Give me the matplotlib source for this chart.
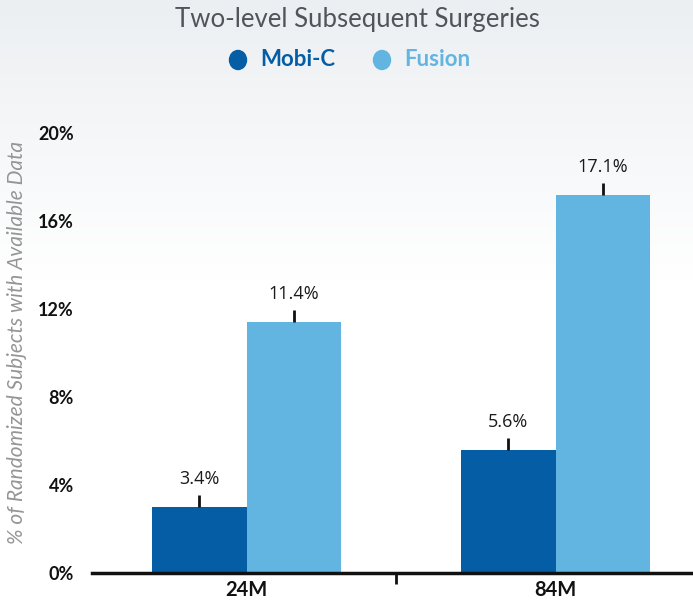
import numpy as np
import matplotlib
matplotlib.use("Agg")
import matplotlib.pyplot as plt

categories = ["24M", "84M"]
series_names = ["Mobi-C", "Fusion"]
mobic_vals = [3.0, 5.6]
fusion_vals = [11.4, 17.2]
mobic_labels = ["3.4%", "5.6%"]
fusion_labels = ["11.4%", "17.1%"]
y_ticks = [0, 4, 8, 12, 16, 20]

c_mobi = "#045da5"
c_fus = "#62b5e1"

W, H = 693, 604
fig = plt.figure(figsize=(W / 100, H / 100), dpi=100)

# background gradient
bg = fig.add_axes([0, 0, 1, 1], zorder=-10)
grad = np.ones((H, 1, 3))
top = np.array([0xec, 0xef, 0xf2]) / 255
for i in range(H):
    t = min(i / 280.0, 1.0)
    grad[i, 0, :] = top * (1 - t) + np.ones(3) * t
bg.imshow(grad, aspect="auto", extent=[0, 1, 0, 1])
bg.axis("off")

left_px, right_px = 92, 693
bot_px, top_px = 573, 133
ax = fig.add_axes([left_px / W, (H - bot_px) / H, (right_px - left_px) / W, (bot_px - top_px) / H])
ax.set_facecolor("none")

x = np.arange(len(categories))
bw = 0.307
ax.bar(x - bw / 2, mobic_vals, bw, color=c_mobi, zorder=2)
ax.bar(x + bw / 2, fusion_vals, bw, color=c_fus, zorder=2)

stub = 0.55
for xi, v, lab in zip(x - bw / 2, mobic_vals, mobic_labels):
    ax.vlines(xi, v, v + stub, color="#111111", lw=2, zorder=3)
    ax.text(xi, v + stub + 0.3, lab, ha="center", va="bottom", fontsize=13,
            family="Open Sans", color="#1a1a1a")
for xi, v, lab in zip(x + bw / 2, fusion_vals, fusion_labels):
    ax.vlines(xi, v, v + stub, color="#111111", lw=2, zorder=3)
    ax.text(xi, v + stub + 0.3, lab, ha="center", va="bottom", fontsize=13,
            family="Open Sans", color="#1a1a1a")

ax.set_xlim(-0.5, -0.5 + (right_px - left_px) / 309.0)
ax.set_ylim(0, 20)
ax.set_yticks(y_ticks)
ax.set_yticklabels([f"{t}%" for t in y_ticks], fontsize=13, fontweight="bold",
                   family="Lato", color="#111111")
ax.tick_params(axis="y", length=0, pad=13)
ax.set_xticks(x)
ax.set_xticklabels(categories, fontsize=14.5, fontweight="bold", family="Lato", color="#111111")
ax.tick_params(axis="x", length=0, pad=5)
ax.set_xticks([0.5 - (401.5 - 396) / 309], minor=True)
ax.tick_params(axis="x", which="minor", length=8, width=2, direction="out", color="#111111")

for s in ["top", "right", "left"]:
    ax.spines[s].set_visible(False)
ax.spines["bottom"].set_linewidth(2.5)
ax.spines["bottom"].set_color("#111111")

fig.text(17 / W, 1 - 342 / H, "% of Randomized Subjects with Available Data", rotation=90,
         ha="center", va="center", fontsize=15, style="italic", family="Lato",
         fontweight="normal", color="#959595")

fig.text(357 / W, 1 - 19 / H, "Two-level Subsequent Surgeries", ha="center", va="center",
         fontsize=18.5, family="Lato", fontweight="normal", color="#50555b")

# legend
ly = 1 - 60 / H
fig.patches.append(matplotlib.patches.Ellipse((238 / W, ly), 17 / W, 19 / H, transform=fig.transFigure,
                                              color=c_mobi))
fig.text(260 / W, ly, series_names[0], ha="left", va="center", fontsize=16, fontweight="bold",
         family="Lato", color=c_mobi)
fig.patches.append(matplotlib.patches.Ellipse((382 / W, ly), 17 / W, 19 / H, transform=fig.transFigure,
                                              color=c_fus))
fig.text(404 / W, ly, series_names[1], ha="left", va="center", fontsize=16, fontweight="bold",
         family="Lato", color=c_fus)

fig.savefig("out.png", dpi=100)
